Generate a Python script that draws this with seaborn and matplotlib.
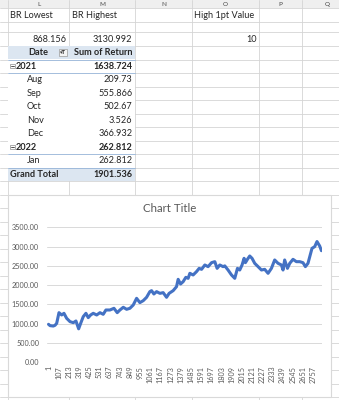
import matplotlib
matplotlib.use("Agg")
import matplotlib.pyplot as plt
import seaborn as sns
import pandas as pd
from matplotlib.patches import Rectangle

# ---------------- data ----------------
day = [1, 17, 51, 69, 86, 110, 138, 162, 190, 225, 259, 287, 315, 336, 363, 391, 415, 440, 467, 503,
       537, 571, 599, 641, 683, 717, 745, 780, 815, 849, 884, 919, 953, 988, 1023, 1057, 1075, 1099,
       1127, 1162, 1196, 1231, 1258, 1300, 1335, 1352, 1377, 1404, 1432, 1456, 1474, 1508, 1543, 1571,
       1596, 1630, 1664, 1700, 1734, 1758, 1786, 1820, 1838, 1872, 1908, 1942, 1970, 1994, 2018, 2039,
       2053, 2074, 2098, 2122, 2150, 2185, 2220, 2254, 2289, 2324, 2358, 2393, 2428, 2445, 2462, 2491,
       2515, 2549, 2584, 2619, 2653, 2678, 2705, 2733, 2747, 2775, 2799, 2827, 2845]
value = [985, 950, 940, 960, 1010, 1287, 1227, 1270, 1140, 1054, 1028, 1071, 868, 1010, 1184, 1270,
         1158, 1227, 1270, 1227, 1287, 1244, 1356, 1356, 1400, 1287, 1356, 1426, 1374, 1400, 1486, 1659,
         1547, 1598, 1685, 1832, 1858, 1771, 1832, 1788, 1806, 1685, 1788, 1858, 1961, 2151, 2030, 2091,
         2203, 2177, 2307, 2264, 2350, 2436, 2410, 2523, 2480, 2583, 2609, 2436, 2523, 2480, 2500, 2393,
         2264, 2177, 2436, 2393, 2523, 2696, 2583, 2670, 2756, 2696, 2566, 2480, 2393, 2410, 2307, 2436,
         2653, 2566, 2523, 2393, 2653, 2436, 2566, 2670, 2609, 2609, 2583, 2480, 2566, 2826, 2955, 2998,
         3131, 3015, 2894]
xtick_labels = [1, 107, 213, 319, 425, 531, 637, 743, 849, 955, 1061, 1167, 1273, 1379, 1485, 1591,
                1697, 1803, 1909, 2015, 2121, 2227, 2333, 2439, 2545, 2651, 2757]
ytick_values = [0, 500, 1000, 1500, 2000, 2500, 3000, 3500]

col_letters = ["L", "M", "N", "O", "P", "Q"]
pivot_labels = ["2021", "Aug", "Sep", "Oct", "Nov", "Dec", "2022", "Jan", "Grand Total"]
pivot_values = ["1638.724", "209.73", "555.866", "502.67", "3.526", "366.932", "262.812", "262.812", "1901.536"]
br_lowest, br_highest, high_1pt = "868.156", "3130.992", "10"

# ---------------- figure ----------------
sns.set_theme(style="white")
plt.rcParams["font.family"] = ["Lato", "DejaVu Sans"]

fig = plt.figure(figsize=(3.39, 4.0), dpi=100)
bg = fig.add_axes([0, 0, 1, 1])
bg.set_xlim(0, 339)
bg.set_ylim(400, 0)
bg.axis("off")

GRID = "#d4d4d4"
BLUE_FILL = "#dce6f1"
BLUE_LINE = "#95b3d7"
FS = 6.6

# header band
bg.add_patch(Rectangle((0, 0), 339, 7.5, facecolor="#efefef", edgecolor="none", zorder=0))
col_edges = [8, 69, 135, 192, 259, 302]
col_centers = [38.5, 102, 163.5, 225.5, 280.5, 327]
for cx, letter in zip(col_centers, col_letters):
    bg.text(cx, 6.6, letter, ha="center", va="bottom", fontsize=4.6, color="#444444", zorder=1)

rows = [7.5, 22, 31.5, 45.5, 59.5, 73, 86.5, 100, 113.5, 127, 140.5, 154, 167.5, 181]
y = 181
while y < 400:
    y += 13.5
    rows.append(y)
for r in rows:
    bg.plot([0, 339], [r, r], color=GRID, lw=0.6, zorder=1)
for c in col_edges:
    bg.plot([c, c], [0, 400], color=GRID, lw=0.6, zorder=1)

# top cells
bg.text(9.5, 15.5, "BR Lowest", ha="left", va="center", fontsize=FS, zorder=3)
bg.text(71.5, 15.5, "BR Highest", ha="left", va="center", fontsize=FS, zorder=3)
bg.text(194.5, 15.5, "High 1pt Value", ha="left", va="center", fontsize=FS, zorder=3)
bg.text(66.5, 39, br_lowest, ha="right", va="center", fontsize=FS, zorder=3)
bg.text(132.5, 39, br_highest, ha="right", va="center", fontsize=FS, zorder=3)
bg.text(256.5, 39, high_1pt, ha="right", va="center", fontsize=FS, zorder=3)

# pivot table
bg.add_patch(Rectangle((8.4, 45.9), 126.3, 135.1, facecolor="white", edgecolor="none", zorder=2))
bg.add_patch(Rectangle((8.4, 45.9), 126.3, 13.6, facecolor=BLUE_FILL, edgecolor="none", zorder=2))
bg.text(38.5, 52.7, "Date", ha="center", va="center", fontsize=FS, fontweight="bold", zorder=3)
bg.add_patch(Rectangle((59, 48.7), 8, 7.8, facecolor="#f4f4f4", edgecolor="#9a9a9a", lw=0.5, zorder=3))
bg.text(63, 52.8, "▾T", ha="center", va="center", fontsize=3.6, fontweight="bold",
        family=["DejaVu Sans"], color="#333333", zorder=4)
bg.text(132.5, 52.7, "Sum of Return", ha="right", va="center", fontsize=FS, fontweight="bold", zorder=3)
bg.plot([8.4, 134.7], [59.5, 59.5], color=BLUE_LINE, lw=0.6, zorder=3)

row_centers = [66.2, 79.7, 93.2, 106.7, 120.2, 133.7, 147.2, 160.7, 174.2]
for lab, val, yc in zip(pivot_labels, pivot_values, row_centers):
    if lab in ("2021", "2022"):
        bg.add_patch(Rectangle((10, yc - 2.4), 4.6, 4.6, facecolor="white", edgecolor="#8c8c8c",
                               lw=0.5, zorder=3))
        bg.plot([11, 13.6], [yc - 0.1, yc - 0.1], color="#333333", lw=0.6, zorder=4)
        bg.text(15.2, yc, lab, ha="left", va="center", fontsize=FS, fontweight="bold", zorder=3)
        bg.text(132.5, yc, val, ha="right", va="center", fontsize=FS, fontweight="bold", zorder=3)
        bg.plot([8.4, 134.7], [yc + 6.8, yc + 6.8], color=BLUE_LINE, lw=0.6, zorder=3)
    elif lab == "Grand Total":
        bg.add_patch(Rectangle((8.4, 167.5), 126.3, 13.5, facecolor=BLUE_FILL, edgecolor="none", zorder=2))
        bg.plot([8.4, 134.7], [167.5, 167.5], color=BLUE_LINE, lw=0.6, zorder=3)
        bg.text(9.5, yc, lab, ha="left", va="center", fontsize=FS, fontweight="bold", zorder=3)
        bg.text(132.5, yc, val, ha="right", va="center", fontsize=FS, fontweight="bold", zorder=3)
    else:
        bg.text(27, yc, lab, ha="left", va="center", fontsize=FS, zorder=3)
        bg.text(132.5, yc, val, ha="right", va="center", fontsize=FS, zorder=3)

# chart frame
bg.add_patch(Rectangle((8, 194.5), 323, 202.5, facecolor="white", edgecolor="#d9d9d9", lw=0.8, zorder=5))
bg.text(169.5, 209, "Chart Title", ha="center", va="center", fontsize=8.3, color="#595959", zorder=6)

# chart axes
ax = fig.add_axes([46.7 / 339, 1 - 362.3 / 400, 275.0 / 339, 135.0 / 400])
ax.set_zorder(10)
ax.patch.set_alpha(0)
df = pd.DataFrame({"day": day, "value": value})
sns.lineplot(data=df, x="day", y="value", ax=ax, color="#4472c4", linewidth=2.2,
             estimator=None, sort=True)
for ln in ax.lines:
    ln.set_solid_joinstyle("round")
    ln.set_solid_capstyle("round")
ax.set_xlim(-18, 2848)
ax.set_ylim(0, 3500)
ax.set_yticks(ytick_values)
ax.set_yticklabels([f"{v:.2f}" for v in ytick_values])
ax.set_xticks(xtick_labels)
ax.set_xticklabels([str(v) for v in xtick_labels], rotation=90)
ax.tick_params(axis="both", length=0, labelsize=5.2, colors="#595959")
ax.tick_params(axis="y", pad=5.5)
ax.tick_params(axis="x", pad=2.5)
ax.yaxis.grid(True, color="#d9d9d9", lw=0.7)
ax.xaxis.grid(False)
ax.set_axisbelow(True)
for s in ax.spines.values():
    s.set_visible(False)
ax.set_xlabel("")
ax.set_ylabel("")

fig.savefig("out.png", dpi=100)
